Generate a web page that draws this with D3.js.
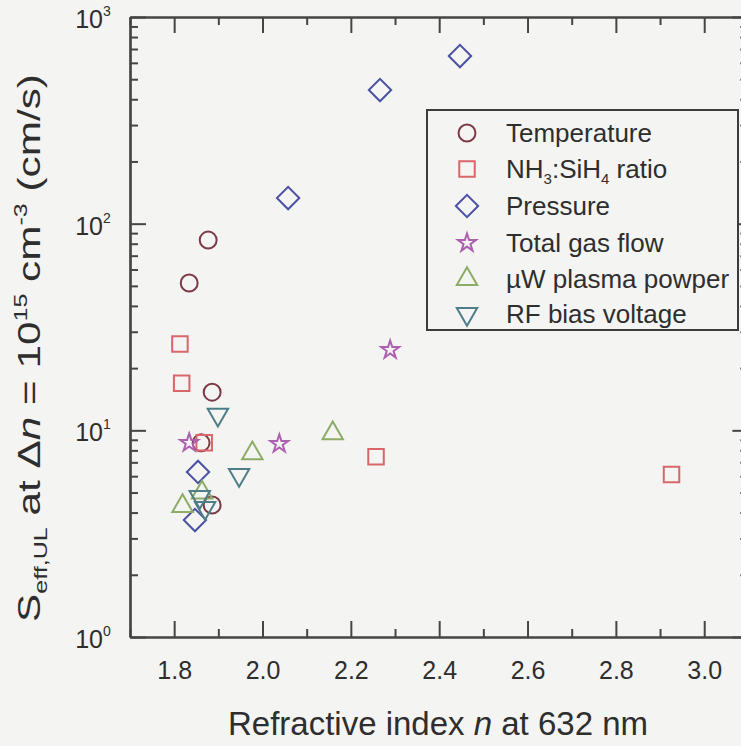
<!DOCTYPE html>
<html>
<head>
<meta charset="utf-8">
<script src="https://cdn.jsdelivr.net/npm/d3@7"></script>
<style>
  html, body { margin: 0; padding: 0; background: #f4f4f2; }
  svg { display: block; font-family: "Liberation Sans", Arial, Helvetica, sans-serif; }
</style>
</head>
<body>
<svg id="chart" width="741" height="746"></svg>
<script>
// Surface recombination velocity vs refractive index, grouped by deposition parameter
const seriesNames = ["Temperature", "NH3:SiH4 ratio", "Pressure", "Total gas flow", "\u00b5W plasma powper", "RF bias voltage"];

const temperatureN = [1.834, 1.877, 1.886, 1.861, 1.886];
const temperatureS = [51.6, 83.3, 15.3, 8.7, 4.35];

const ratioN = [1.813, 1.817, 1.868, 2.257, 2.926];
const ratioS = [26.2, 16.9, 8.7, 7.45, 6.12];

const pressureN = [2.447, 2.266, 2.058, 1.854, 1.847];
const pressureS = [647, 443, 133, 6.29, 3.68];

const gasFlowN = [2.289, 1.834, 2.038];
const gasFlowS = [24.5, 8.7, 8.6];

const powerN = [2.159, 1.977, 1.819, 1.863];
const powerS = [9.67, 7.74, 4.30, 5.0];

const biasN = [1.899, 1.947, 1.858, 1.870];
const biasS = [11.9, 6.08, 4.76, 4.21];

const xTicks = [1.8, 2.0, 2.2, 2.4, 2.6, 2.8, 3.0];
const yExponents = [0, 1, 2, 3];

const svg = d3.select("#chart");

const x = d3.scaleLinear().domain([1.7, 3.1]).range([130, 130 + 1.4 * 441.7]);
const y = d3.scaleLog().domain([1, 1000]).range([637, 17]);

const axisColor = "#454545";
const textColor = "#2e2e2e";
const majorLen = 16, minorLen = 8;

// Tick positions
const xMinor = d3.range(1.7, 3.1001, 0.1).map(v => +v.toFixed(2)).filter(v => !xTicks.some(t => Math.abs(t - v) < 1e-6));
const yMajor = yExponents.map(e => Math.pow(10, e));
const yMinor = [];
[1, 10, 100].forEach(d => { for (let k = 2; k <= 9; k++) yMinor.push(d * k); });

const x0 = x.range()[0], x1 = x.range()[1];
const y0 = y.range()[0], y1 = y.range()[1];

const frame = svg.append("g");

// Bottom axis (ticks inward) with labels
const bottomAxis = d3.axisBottom(x).tickValues(xTicks).tickSizeInner(-majorLen).tickSizeOuter(0).tickPadding(24).tickFormat(d3.format(".1f"));
const gb = frame.append("g").attr("transform", `translate(0,${y0})`).call(bottomAxis);
gb.selectAll("text").attr("font-size", 25).attr("fill", textColor).attr("font-family", "Liberation Sans, Arial, sans-serif");
frame.append("g").attr("transform", `translate(0,${y0})`)
  .call(d3.axisBottom(x).tickValues(xMinor).tickSizeInner(-minorLen).tickSizeOuter(0).tickFormat(""));

// Top axis mirror
frame.append("g").attr("transform", `translate(0,${y1})`).call(d3.axisTop(x).tickValues(xTicks).tickSizeInner(-majorLen).tickSizeOuter(0).tickFormat(""));
frame.append("g").attr("transform", `translate(0,${y1})`).call(d3.axisTop(x).tickValues(xMinor).tickSizeInner(-minorLen).tickSizeOuter(0).tickFormat(""));

// Left axis
frame.append("g").attr("transform", `translate(${x0},0)`).call(d3.axisLeft(y).tickValues(yMajor).tickSizeInner(-majorLen).tickSizeOuter(0).tickFormat(""));
frame.append("g").attr("transform", `translate(${x0},0)`).call(d3.axisLeft(y).tickValues(yMinor).tickSizeInner(-minorLen).tickSizeOuter(0).tickFormat(""));

// Right axis mirror
frame.append("g").attr("transform", `translate(${x1},0)`).call(d3.axisRight(y).tickValues(yMajor).tickSizeInner(-majorLen).tickSizeOuter(0).tickFormat(""));
frame.append("g").attr("transform", `translate(${x1},0)`).call(d3.axisRight(y).tickValues(yMinor).tickSizeInner(-minorLen).tickSizeOuter(0).tickFormat(""));

frame.selectAll(".domain").attr("stroke", axisColor).attr("stroke-width", 2.2);
frame.selectAll(".tick line").attr("stroke", axisColor).attr("stroke-width", 2);

// Y tick labels as powers of ten
const yLab = svg.append("g").attr("fill", textColor);
yExponents.forEach(e => {
  yLab.append("text")
    .attr("x", 103).attr("y", y(Math.pow(10, e)) + 11)
    .attr("text-anchor", "end").attr("font-size", 25).text("10");
  yLab.append("text")
    .attr("x", 103).attr("y", y(Math.pow(10, e)) - 1)
    .attr("font-size", 14).text(e);
});

// Axis titles
const xt = svg.append("text").attr("x", 438).attr("y", 735).attr("text-anchor", "middle")
  .attr("font-size", 33).attr("fill", textColor);
xt.append("tspan").text("Refractive index ");
xt.append("tspan").attr("font-style", "italic").text("n");
xt.append("tspan").text(" at 632 nm");

const ytG = svg.append("g").attr("transform", "translate(40,348) rotate(-90)");
const yt = ytG.append("text").attr("text-anchor", "middle")
  .attr("font-size", 32).attr("fill", textColor);
yt.append("tspan").text("S");
yt.append("tspan").attr("font-size", 19).attr("dy", 7).text("eff,UL");
yt.append("tspan").attr("dy", -7).text(" at \u0394");
yt.append("tspan").attr("font-style", "italic").text("n");
yt.append("tspan").text(" = 10");
yt.append("tspan").attr("font-size", 19).attr("dy", -13).text("15");
yt.append("tspan").attr("dy", 13).text(" cm");
yt.append("tspan").attr("font-size", 19).attr("dy", -13).text("-3");
yt.append("tspan").attr("dy", 13).text(" (cm/s)");
// stretch the title along its run to span the plot height
const ytLen = yt.node().getComputedTextLength();
yt.attr("transform", `scale(${548 / ytLen},1)`);

// Marker styles per series
const styles = [
  { n: temperatureN, s: temperatureS, color: "#7c3a46", type: d3.symbolCircle, size: 225, rot: 0 },
  { n: ratioN, s: ratioS, color: "#d8666a", type: d3.symbolSquare, size: 240, rot: 0 },
  { n: pressureN, s: pressureS, color: "#4a52a4", type: d3.symbolSquare, size: 250, rot: 45 },
  { n: gasFlowN, s: gasFlowS, color: "#ad5fb0", type: d3.symbolStar, size: 100, rot: 0 },
  { n: powerN, s: powerS, color: "#8dac66", type: d3.symbolTriangle, size: 180, rot: 0 },
  { n: biasN, s: biasS, color: "#4e7e88", type: d3.symbolTriangle, size: 180, rot: 180 }
];

const marks = svg.append("g");
styles.forEach(st => {
  const pts = st.n.map((v, i) => [v, st.s[i]]);
  marks.append("g").selectAll("path").data(pts).join("path")
    .attr("d", d3.symbol().type(st.type).size(st.size))
    .attr("transform", d => `translate(${x(d[0])},${y(d[1])}) rotate(${st.rot})`)
    .attr("fill", "none").attr("stroke", st.color).attr("stroke-width", 2);
});

// Legend
const lg = svg.append("g");
lg.append("rect").attr("x", 427).attr("y", 110).attr("width", 311).attr("height", 220)
  .attr("fill", "#f4f4f2").attr("stroke", "#3c3c3c").attr("stroke-width", 2);
const rowY = [133, 169, 206, 243, 279, 314];
styles.forEach((st, i) => {
  lg.append("path")
    .attr("d", d3.symbol().type(st.type).size(st.size)())
    .attr("transform", `translate(467,${rowY[i]}) rotate(${st.rot})`)
    .attr("fill", "none").attr("stroke", st.color).attr("stroke-width", 2);
  const t = lg.append("text").attr("x", 506).attr("y", rowY[i] + 9).attr("font-size", 26).attr("fill", textColor);
  if (i === 1) {
    t.append("tspan").text("NH");
    t.append("tspan").attr("font-size", 15).attr("dy", 6).text("3");
    t.append("tspan").attr("dy", -6).text(":SiH");
    t.append("tspan").attr("font-size", 15).attr("dy", 6).text("4");
    t.append("tspan").attr("dy", -6).text(" ratio");
  } else {
    t.text(seriesNames[i]);
  }
});
</script>
</body>
</html>
